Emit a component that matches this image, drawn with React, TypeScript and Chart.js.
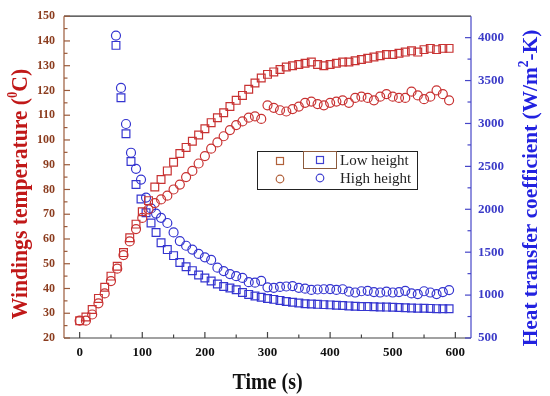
import React, { useEffect, useRef } from "react";
import { Chart, registerables } from "chart.js";

Chart.register(...registerables);

// ---------- data ----------
const tempTimes = [
  0, 10, 20, 30, 40, 50, 60, 70, 80, 90, 100, 110, 120, 130, 140, 150, 160, 170, 180, 190,
  200, 210, 220, 230, 240, 250, 260, 270, 280, 290, 300, 310, 320, 330, 340, 350, 360, 370, 380, 390,
  400, 410, 420, 430, 440, 450, 460, 470, 480, 490, 500, 510, 520, 530, 540, 550, 560, 570, 580, 590,
];
const lowTemp = [
  27, 28.5, 31.5, 36, 40.5, 45, 49, 54.5, 60.5, 66, 71, 75.5, 81, 84, 87.5, 91, 94.5, 97, 99.5, 102,
  104.5, 107, 109, 111, 113.5, 116, 118, 120.5, 123, 125, 126.5, 127.5, 128.5, 129.5, 130, 130.5, 131, 131.5, 130.5, 130,
  130.5, 131, 131.5, 131.5, 132, 132.5, 133, 133.5, 134, 134.5, 134.5, 135, 135.5, 136, 135.5, 136.5, 137, 136.5, 137, 137,
];
const highTemp = [
  27, 27, 29.5, 34, 38, 43, 48, 53.5, 59, 64, 68.5, 72, 74.5, 76, 77.5, 80, 82, 85, 87.5, 90.5,
  93.5, 96.5, 99, 101.5, 104, 106, 107.5, 109, 109.5, 108.5, 114, 113, 112, 111.5, 112.5, 113.5, 115, 115.5, 114.5, 114,
  115, 115.5, 116, 115, 117, 117.5, 117, 116, 117.5, 118.5, 117.5, 117, 117, 119.5, 118, 116.5, 117.5, 120, 118.5, 116,
];
const htcTimes = [
  58, 66, 74, 82, 90, 98, 106, 114, 122, 130, 140, 150, 160, 170, 180, 190,
  200, 210, 220, 230, 240, 250, 260, 270, 280, 290, 300, 310, 320, 330, 340, 350, 360, 370, 380, 390,
  400, 410, 420, 430, 440, 450, 460, 470, 480, 490, 500, 510, 520, 530, 540, 550, 560, 570, 580, 590,
];
const lowHTC = [
  3910, 3300, 2880, 2556, 2288, 2120, 1960, 1840, 1730, 1610, 1530, 1460, 1380, 1330, 1285, 1235,
  1200, 1165, 1130, 1100, 1082, 1062, 1030, 1008, 990, 975, 960, 950, 938, 926, 916, 908, 900, 896, 892, 889,
  886, 882, 878, 874, 869, 866, 866, 865, 862, 860, 858, 855, 852, 850, 848, 847, 845, 842, 840, 840,
];
const highHTC = [
  4024, 3414, 2994, 2659, 2472, 2346, 2136, 2010, 1950, 1900, 1840, 1730, 1630, 1575, 1530, 1480,
  1440, 1410, 1320, 1280, 1245, 1220, 1200, 1150, 1145, 1165, 1090, 1085, 1095, 1100, 1105, 1085, 1075, 1060, 1065, 1068,
  1070, 1060, 1068, 1040, 1030, 1045, 1050, 1035, 1030, 1040, 1030, 1035, 1050, 1020, 1012, 1045, 1030, 1012, 1035, 1058,
];

const xTicks = [0, 100, 200, 300, 400, 500, 600];
const xMinorTicks = [50, 150, 250, 350, 450, 550];
const leftTicks = [20, 30, 40, 50, 60, 70, 80, 90, 100, 110, 120, 130, 140, 150];
const leftMinorTicks = [25, 35, 45, 55, 65, 75, 85, 95, 105, 115, 125, 135, 145];
const rightTicks = [500, 1000, 1500, 2000, 2500, 3000, 3500, 4000];
const rightMinorTicks = [750, 1250, 1750, 2250, 2750, 3250, 3750];

const seriesLabels = ["Low height", "High height"];
const xTitle = "Time (s)";

const FONT = '"Liberation Serif", "Times New Roman", serif';
const RED = "#c83232";
const BLUE = "#3535d0";

type Part = [string, number, number]; // text, size, rise

function drawRich(
  ctx: CanvasRenderingContext2D,
  parts: Part[],
  x: number,
  y: number,
  rot: number,
  along: number,
  color: string
) {
  ctx.save();
  ctx.translate(x, y);
  ctx.rotate(rot);
  ctx.scale(along, 1);
  ctx.fillStyle = color;
  ctx.textBaseline = "alphabetic";
  ctx.textAlign = "left";
  let total = 0;
  const widths: number[] = [];
  for (const [t, s] of parts) {
    ctx.font = `bold ${s}px ${FONT}`;
    const w = ctx.measureText(t).width;
    widths.push(w);
    total += w;
  }
  let cx = -total / 2;
  parts.forEach(([t, s, r], i) => {
    ctx.font = `bold ${s}px ${FONT}`;
    ctx.fillText(t, cx, -r);
    cx += widths[i];
  });
  ctx.restore();
}

export default function App() {
  const ref = useRef<HTMLCanvasElement>(null);

  useEffect(() => {
    document.body.style.margin = "0";
    const canvas = ref.current;
    if (!canvas) return;

    const decor = {
      id: "decor",
      afterDraw(chart: any) {
        const { ctx, chartArea: a, scales } = chart;
        const sx = scales.x;
        const sl = scales.y;
        const sr = scales.y1;
        ctx.save();
        ctx.lineWidth = 1.2;
        const line = (x1: number, y1: number, x2: number, y2: number, c: string) => {
          ctx.strokeStyle = c;
          ctx.beginPath();
          ctx.moveTo(x1, y1);
          ctx.lineTo(x2, y2);
          ctx.stroke();
        };
        // frame
        line(a.left, a.top, a.right, a.top, "#333333");
        line(a.left, a.bottom, a.right, a.bottom, "#444444");
        line(a.left, a.top, a.left, a.bottom, "#9a5a3a");
        line(a.right, a.top, a.right, a.bottom, "#4646c8");
        // inward ticks
        xTicks.forEach((v) => {
          const p = sx.getPixelForValue(v);
          line(p, a.bottom, p, a.bottom - 6, "#444444");
        });
        xMinorTicks.forEach((v) => {
          const p = sx.getPixelForValue(v);
          line(p, a.bottom, p, a.bottom - 3.5, "#444444");
        });
        leftTicks.forEach((v) => {
          const p = sl.getPixelForValue(v);
          line(a.left, p, a.left + 6, p, "#9a5a3a");
        });
        leftMinorTicks.forEach((v) => {
          const p = sl.getPixelForValue(v);
          line(a.left, p, a.left + 3.5, p, "#9a5a3a");
        });
        rightTicks.forEach((v) => {
          const p = sr.getPixelForValue(v);
          line(a.right, p, a.right - 6, p, "#4646c8");
        });
        rightMinorTicks.forEach((v) => {
          const p = sr.getPixelForValue(v);
          line(a.right, p, a.right - 3.5, p, "#4646c8");
        });

        // axis titles
        drawRich(ctx, [[xTitle, 23, 0]], 267.5, 388.5, 0, 0.87, "#111111");
        drawRich(
          ctx,
          [
            ["Windings temperature (", 24, 0],
            ["0", 14, 10],
            ["C)", 24, 0],
          ],
          27,
          194,
          -Math.PI / 2,
          0.9,
          "#c01818"
        );
        drawRich(
          ctx,
          [
            ["Heat transfer coefficient (W/m", 22, 0],
            ["2", 14, 9],
            ["-K)", 22, 0],
          ],
          537,
          188,
          -Math.PI / 2,
          0.97,
          "#2222e0"
        );

        // legend
        ctx.lineWidth = 1;
        ctx.strokeStyle = "#222222";
        ctx.strokeRect(257.5, 151.5, 160, 38);
        ctx.strokeStyle = "#8b5a3c";
        ctx.strokeRect(303.5, 151.5, 33, 17);
        ctx.lineWidth = 1.2;
        ctx.strokeStyle = "#b0603a";
        ctx.strokeRect(276.5, 157.5, 7, 7);
        ctx.beginPath();
        ctx.arc(280, 179, 3.8, 0, Math.PI * 2);
        ctx.stroke();
        ctx.strokeStyle = "#4040d0";
        ctx.strokeRect(316.5, 156.5, 7, 7);
        ctx.beginPath();
        ctx.arc(320, 178, 3.8, 0, Math.PI * 2);
        ctx.stroke();
        ctx.fillStyle = "#222222";
        ctx.font = `15px ${FONT}`;
        ctx.textBaseline = "middle";
        ctx.textAlign = "left";
        ctx.fillText(seriesLabels[0], 340, 161);
        ctx.fillText(seriesLabels[1], 340, 179.5);
        ctx.restore();
      },
    };

    const pts = (ts: number[], vs: number[]) => ts.map((t, i) => ({ x: t, y: vs[i] }));
    const plain = (v: any) => String(v);

    const chart = new Chart(canvas, {
      type: "scatter",
      data: {
        datasets: [
          {
            label: "Low height T",
            data: pts(tempTimes, lowTemp),
            yAxisID: "y",
            pointStyle: "rect",
            pointRadius: 5.5,
            borderColor: RED,
            backgroundColor: "rgba(0,0,0,0)",
            pointBorderWidth: 1.2,
          },
          {
            label: "High height T",
            data: pts(tempTimes, highTemp),
            yAxisID: "y",
            pointStyle: "circle",
            pointRadius: 4.5,
            borderColor: RED,
            backgroundColor: "rgba(0,0,0,0)",
            pointBorderWidth: 1.2,
          },
          {
            label: "Low height h",
            data: pts(htcTimes, lowHTC),
            yAxisID: "y1",
            pointStyle: "rect",
            pointRadius: 5.5,
            borderColor: BLUE,
            backgroundColor: "rgba(0,0,0,0)",
            pointBorderWidth: 1.2,
          },
          {
            label: "High height h",
            data: pts(htcTimes, highHTC),
            yAxisID: "y1",
            pointStyle: "circle",
            pointRadius: 4.5,
            borderColor: BLUE,
            backgroundColor: "rgba(0,0,0,0)",
            pointBorderWidth: 1.2,
          },
        ],
      },
      options: {
        responsive: true,
        maintainAspectRatio: false,
        animation: false,
        layout: { padding: { top: 11, left: 0, right: 0, bottom: 0 } },
        plugins: {
          legend: { display: false },
          tooltip: { enabled: false },
          title: { display: false },
        },
        scales: {
          x: {
            type: "linear",
            min: -25,
            max: 625,
            grid: { display: false, drawTicks: false },
            border: { display: false },
            afterBuildTicks: (s: any) => {
              s.ticks = xTicks.map((v) => ({ value: v }));
            },
            afterFit: (s: any) => {
              s.height = 58;
            },
            ticks: {
              padding: 7,
              color: "#111111",
              font: { family: FONT, size: 13, weight: "bold" },
              maxRotation: 0,
              callback: plain,
            },
          },
          y: {
            type: "linear",
            position: "left",
            min: 20,
            max: 150,
            grid: { display: false, drawTicks: false },
            border: { display: false },
            afterBuildTicks: (s: any) => {
              s.ticks = leftTicks.map((v) => ({ value: v }));
            },
            afterFit: (s: any) => {
              s.width = 64;
            },
            ticks: {
              padding: 9,
              color: "#8b3c1e",
              font: { family: FONT, size: 12, weight: "bold" },
              callback: plain,
            },
          },
          y1: {
            type: "linear",
            position: "right",
            min: 500,
            max: 4250,
            grid: { display: false, drawTicks: false },
            border: { display: false },
            afterBuildTicks: (s: any) => {
              s.ticks = rightTicks.map((v) => ({ value: v }));
            },
            afterFit: (s: any) => {
              s.width = 79;
            },
            ticks: {
              padding: 7,
              color: "#3c3cc8",
              font: { family: FONT, size: 13, weight: "bold" },
              callback: plain,
            },
          },
        },
      },
      plugins: [decor],
    } as any);

    return () => chart.destroy();
  }, []);

  return (
    <div style={{ position: "absolute", left: 0, top: 0, width: 550, height: 396, background: "#ffffff" }}>
      <canvas ref={ref} />
    </div>
  );
}
